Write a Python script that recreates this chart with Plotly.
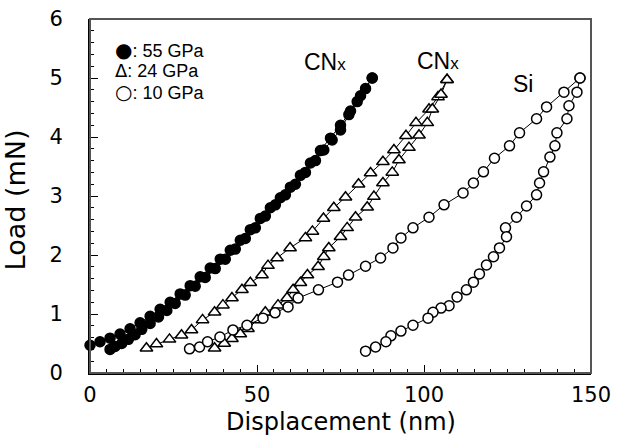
import plotly.graph_objects as go

# 55 GPa CNx (filled circles): loading and unloading branches
l55_x = [0, 3, 6, 9, 12, 15, 18, 21, 24, 27, 30, 33, 36, 39, 42, 45, 48, 51, 54, 57, 60, 63, 66, 69, 72, 75, 78, 81, 84.5]
l55_y = [0.47, 0.53, 0.59, 0.66, 0.75, 0.85, 0.96, 1.08, 1.2, 1.34, 1.48, 1.63, 1.78, 1.93, 2.08, 2.25, 2.43, 2.62, 2.8, 2.97, 3.15, 3.35, 3.56, 3.77, 3.98, 4.2, 4.44, 4.7, 5.0]
u55_x = [84.5, 82.5, 80, 77.5, 75, 72.5, 70, 67.5, 64.5, 61.5, 58.5, 55.5, 52.5, 49.5, 46.5, 43.5, 40.5, 37.5, 34.5, 31.5, 28.5, 25.5, 23, 20.5, 18, 15.5, 13.5, 11.5, 9.5, 7.5, 6]
u55_y = [5.0, 4.82, 4.6, 4.38, 4.12, 3.95, 3.78, 3.6, 3.4, 3.2, 3.02, 2.85, 2.66, 2.46, 2.28, 2.1, 1.93, 1.77, 1.62, 1.47, 1.32, 1.18, 1.06, 0.95, 0.84, 0.74, 0.65, 0.57, 0.5, 0.45, 0.4]

# 24 GPa CNx (open triangles)
l24_x = [16.9, 19.9, 23.8, 27.4, 30.4, 33.7, 37.3, 39.8, 42.5, 45.5, 48, 51.5, 53.3, 56, 59.9, 64.5, 66.6, 69.9, 73, 76.5, 80.4, 84, 87.7, 91, 94.6, 97.6, 101.5, 104.2, 106.9]
l24_y = [0.42, 0.49, 0.57, 0.64, 0.73, 0.9, 1.03, 1.15, 1.27, 1.41, 1.53, 1.66, 1.82, 1.95, 2.12, 2.29, 2.4, 2.62, 2.8, 2.98, 3.2, 3.39, 3.58, 3.78, 4.02, 4.24, 4.47, 4.68, 4.97]
u24_x = [106.9, 105.1, 102.5, 101, 98.5, 95.5, 92.5, 90.5, 87.7, 85, 83, 79.5, 77, 75, 71.5, 70, 68.3, 65.1, 63, 60.8, 59, 56.3, 52.5, 50, 47.3, 45, 42.5, 40.2, 37.3]
u24_y = [4.97, 4.72, 4.47, 4.24, 4.03, 3.82, 3.61, 3.4, 3.22, 2.99, 2.81, 2.64, 2.46, 2.31, 2.12, 1.97, 1.8, 1.66, 1.53, 1.41, 1.27, 1.15, 1.03, 0.9, 0.75, 0.66, 0.58, 0.5, 0.42]

# 10 GPa Si (open circles)
l10_x = [29.8, 32.8, 35.2, 38.9, 42.8, 47, 51.8, 55.4, 59.3, 62.3, 68.4, 74.1, 77.4, 82.5, 87, 90.7, 93.1, 96.7, 101.5, 106, 111.7, 114.8, 117.8, 121.1, 125.6, 128.6, 133.7, 136.7, 141.9, 146.7]
l10_y = [0.41, 0.44, 0.53, 0.61, 0.73, 0.81, 0.93, 1.02, 1.12, 1.27, 1.41, 1.54, 1.66, 1.81, 1.95, 2.12, 2.29, 2.46, 2.64, 2.85, 3.05, 3.22, 3.41, 3.64, 3.85, 4.07, 4.31, 4.51, 4.76, 5.0]
u10_x = [146.7, 145.8, 143.4, 142.8, 139.8, 139.2, 137.7, 135.8, 134.6, 133.7, 130.7, 127.7, 124.4, 124.7, 122.6, 120.8, 118.7, 116.6, 114.8, 112.7, 109.9, 107.5, 105.1, 102.7, 101.2, 96.7, 93.1, 90.1, 88.6, 85.5, 82.5]
u10_y = [5.0, 4.76, 4.53, 4.31, 4.07, 3.85, 3.66, 3.41, 3.22, 3.02, 2.83, 2.64, 2.46, 2.31, 2.12, 1.97, 1.83, 1.68, 1.54, 1.41, 1.29, 1.14, 1.1, 1.03, 0.93, 0.81, 0.71, 0.63, 0.53, 0.44, 0.37]

legend_symbols = ["\u25cf", "\u0394", "\u25cb"]
legend_texts = [": 55 GPa", ": 24 GPa", ": 10 GPa"]
legend_y = [5.47, 5.13, 4.77]
curve_labels = ["CN<span style='font-size:17px'>x</span>", "CN<span style='font-size:17px'>x</span>", "Si"]
curve_label_x = [70.5, 104.2, 129.5]
curve_label_y = [5.27, 5.29, 4.9]

FONT = "Liberation Sans, Arial, Helvetica, sans-serif"
WIDE = "DejaVu Sans, sans-serif"

fig = go.Figure()

def add_series(xs, ys, symbol, fill):
    fig.add_trace(go.Scatter(
        x=xs, y=ys, mode="lines+markers", cliponaxis=False, showlegend=False,
        line=dict(color="black", width=1),
        marker=dict(symbol=symbol, size=10 if symbol == "circle" else 11,
                    color=fill, line=dict(color="black", width=1.5)),
    ))

add_series(l55_x, l55_y, "circle", "black")
add_series(u55_x, u55_y, "circle", "black")
add_series(l24_x, l24_y, "triangle-up", "white")
add_series(u24_x, u24_y, "triangle-up", "white")
add_series(l10_x, l10_y, "circle", "white")
add_series(u10_x, u10_y, "circle", "white")

sym_sizes = [20, 18, 20]
for sym, txt, yy, ss in zip(legend_symbols, legend_texts, legend_y, sym_sizes):
    fig.add_annotation(x=7.0, y=yy, text=f"<span style='font-family:DejaVu Sans;font-size:{ss}px'>{sym}</span>{txt}",
                       showarrow=False, xanchor="left", yanchor="middle",
                       font=dict(family=FONT, size=18, color="black"))

for txt, xx, yy in zip(curve_labels, curve_label_x, curve_label_y):
    fig.add_annotation(x=xx, y=yy, text=txt, showarrow=False, xanchor="center",
                       yanchor="middle", font=dict(family=FONT, size=23, color="black"))

# axis titles
fig.add_annotation(xref="paper", yref="paper", x=0.5, y=-0.138, text="Displacement (nm)",
                   showarrow=False, xanchor="center", yanchor="middle",
                   font=dict(family=WIDE, size=24, color="black"))
fig.add_annotation(xref="paper", yref="paper", x=-0.148, y=0.49, text="Load (mN)",
                   showarrow=False, xanchor="center", yanchor="middle", textangle=-90,
                   font=dict(family=WIDE, size=27, color="black"))

fig.add_shape(type="rect", xref="paper", yref="paper", x0=0, x1=1, y0=0, y1=1,
              line=dict(color="#555", width=2), layer="above")

fig.update_xaxes(range=[0, 150], dtick=50, tick0=0, ticks="inside", ticklen=8, tickwidth=1,
                 tickcolor="black", showline=True, linecolor="black", linewidth=2,
                 showgrid=False, zeroline=False, automargin=False,
                 minor=dict(ticks="inside", dtick=5, ticklen=4, tickcolor="black", showgrid=False),
                 tickfont=dict(family=WIDE, size=21, color="black"), ticklabelstandoff=2)
fig.update_yaxes(range=[0, 6], dtick=1, tick0=0, ticks="inside", ticklen=8, tickwidth=1,
                 tickcolor="black", showline=True, linecolor="black", linewidth=2,
                 showgrid=False, zeroline=False, automargin=False,
                 minor=dict(ticks="inside", dtick=0.2, ticklen=4, tickcolor="black", showgrid=False),
                 tickfont=dict(family=WIDE, size=21, color="black"), ticklabelstandoff=21)

fig.update_layout(width=619, height=445, margin=dict(l=90, r=28, t=19, b=72, autoexpand=False),
                  plot_bgcolor="white", paper_bgcolor="white")

fig.write_html("out.html", config={"displayModeBar": False, "staticPlot": True},
               post_script="document.body.style.margin='0';document.body.style.overflow='hidden';")
